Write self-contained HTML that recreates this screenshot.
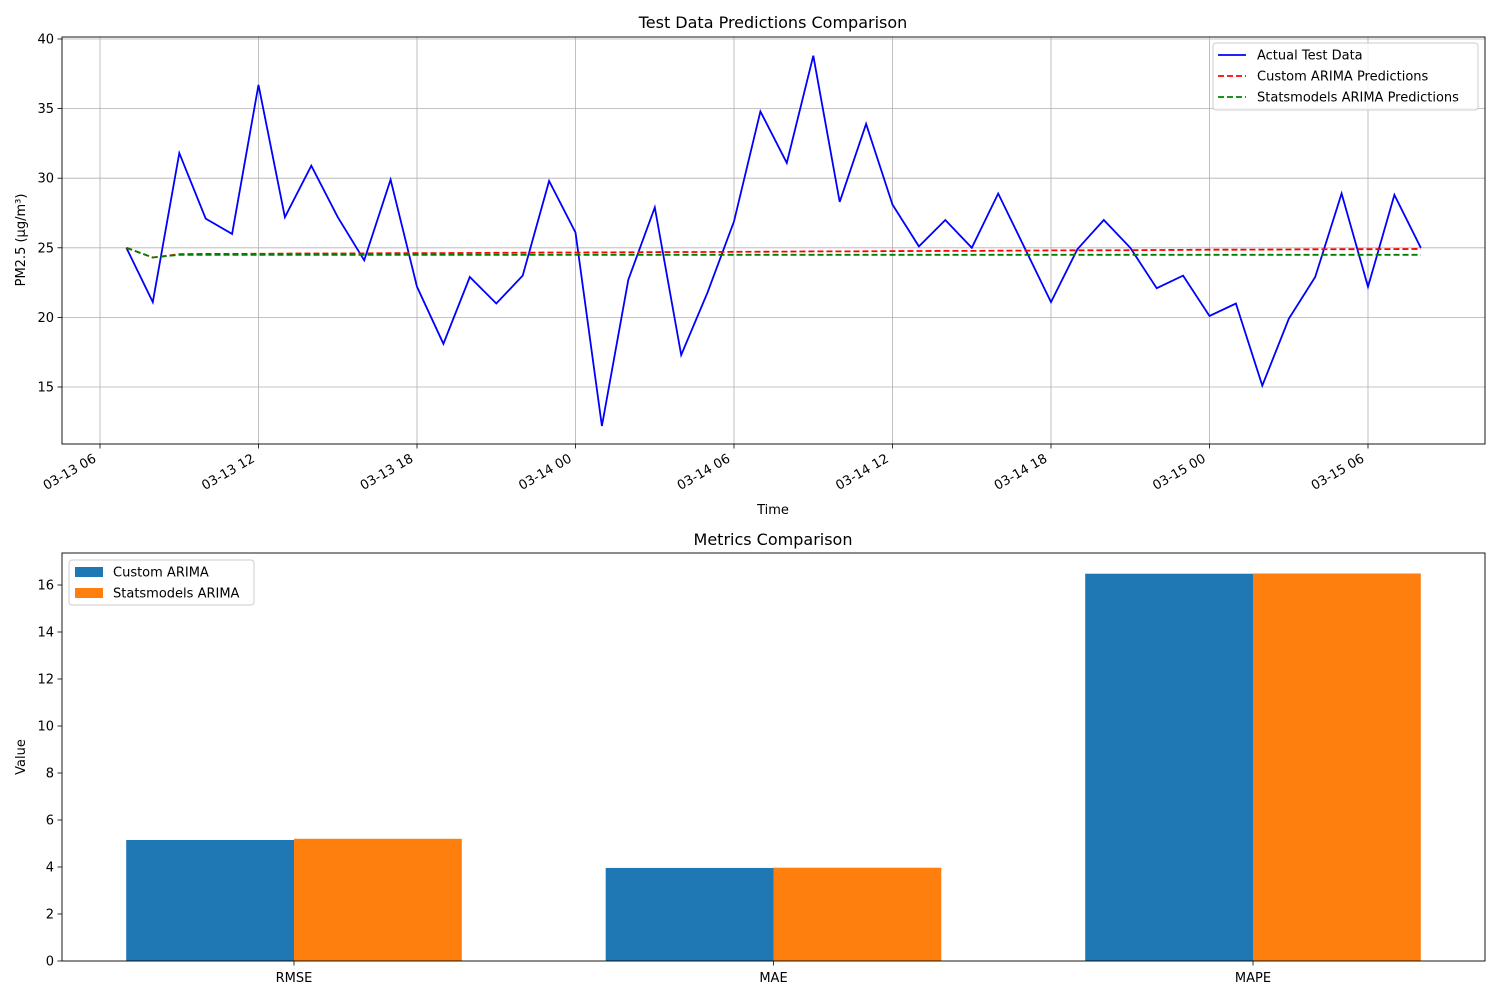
<!DOCTYPE html>
<html><head><meta charset="utf-8"><style>
body{margin:0;background:#fff;}
svg text{font-family:"DejaVu Sans","Liberation Sans",sans-serif;fill:#000;}
</style></head><body>
<svg id="fig" width="1500" height="1000" xmlns="http://www.w3.org/2000/svg">
<rect width="1500" height="1000" fill="#fff"/>
<g id="top"></g>
<g id="bot"></g>
</svg>
<script>
const actual=[25.0,21.1,31.8,27.1,26.0,36.7,27.2,30.9,27.2,24.1,29.9,22.2,18.1,22.9,21.0,23.0,29.8,26.1,12.2,22.7,27.9,17.3,21.8,26.9,34.8,31.1,38.8,28.3,33.9,28.1,25.1,27.0,25.0,28.9,25.0,21.1,24.9,27.0,25.0,22.1,23.0,20.1,21.0,15.1,19.9,22.9,28.9,22.2,28.8,25.0];
const customPred=[25.0,24.3,24.55,24.56,24.56,24.57,24.58,24.59,24.59,24.6,24.61,24.62,24.62,24.63,24.64,24.65,24.66,24.66,24.67,24.68,24.69,24.7,24.7,24.71,24.72,24.73,24.74,24.74,24.75,24.76,24.77,24.78,24.78,24.79,24.8,24.81,24.82,24.82,24.83,24.84,24.85,24.86,24.86,24.87,24.88,24.89,24.9,24.9,24.91,24.92];
const statsPred=[25.0,24.3,24.5,24.5,24.5,24.5,24.5,24.5,24.5,24.5,24.5,24.5,24.5,24.5,24.5,24.5,24.5,24.5,24.5,24.5,24.5,24.5,24.5,24.5,24.5,24.5,24.5,24.5,24.5,24.5,24.5,24.5,24.5,24.5,24.5,24.5,24.5,24.5,24.5,24.5,24.5,24.5,24.5,24.5,24.5,24.5,24.5,24.5,24.5,24.5];
const startHour=7;
const xTickLabels=["03-13 06","03-13 12","03-13 18","03-14 00","03-14 06","03-14 12","03-14 18","03-15 00","03-15 06"];
const xTickHours=[6,12,18,24,30,36,42,48,54];
const yTicksTop=[15,20,25,30,35,40];
const metricCats=["RMSE","MAE","MAPE"];
const customMetrics=[5.15,3.96,16.48];
const statsMetrics=[5.2,3.97,16.49];
const yTicksBot=[0,2,4,6,8,10,12,14,16];

const NS="http://www.w3.org/2000/svg";
function mk(p,tag,attrs,text){const e=document.createElementNS(NS,tag);for(const k in attrs)e.setAttribute(k,attrs[k]);if(text!==undefined)e.textContent=text;p.appendChild(e);return e;}

const T=document.getElementById('top');
const L=62,R=1485,TT=37,TB=444;
const xh=h=>100+(h-6)*158.5/6;
const yt=v=>387-(v-15)*13.92;
xTickHours.forEach((h,i)=>{
  const x=xh(h);
  const g=mk(T,'line',{x1:x,x2:x,y1:TT,y2:TB,stroke:'#b0b0b0','stroke-width':0.8});
  
  
  mk(T,'line',{x1:x,x2:x,y1:TB,y2:TB+4.5,stroke:'#000','stroke-width':0.8});
  const tx0=x-3,ty0=TB+17;
  const t=mk(T,'text',{x:tx0,y:ty0,'font-size':13,'text-anchor':'end',transform:`rotate(-30 ${tx0} ${ty0})`},xTickLabels[i]);
  
  
});
yTicksTop.forEach(v=>{
  const y=yt(v);
  const g=mk(T,'line',{x1:L,x2:R,y1:y,y2:y,stroke:'#b0b0b0','stroke-width':0.8});
  
  
  mk(T,'line',{x1:L-4.5,x2:L,y1:y,y2:y,stroke:'#000','stroke-width':0.8});
  const t=mk(T,'text',{x:L-8,y:y+4.5,'font-size':13,'text-anchor':'end'},String(v));
  
  
});
function series(arr,color,dash,name){
  const pts=arr.map((v,i)=>xh(startHour+i).toFixed(1)+','+yt(v).toFixed(1)).join(' ');
  const a={points:pts,fill:'none',stroke:color,'stroke-width':1.8};
  if(dash)a['stroke-dasharray']=dash;
  const p=mk(T,'polyline',a);
  
  
}
series(actual,'#0000ff',null,'actual-line');
series(customPred,'#ff0000','6,3','custom-arima-line');
series(statsPred,'#008000','6,3','statsmodels-arima-line');
mk(T,'rect',{x:L,y:TT,width:R-L,height:TB-TT,fill:'none',stroke:'#000','stroke-width':0.9});
let t=mk(T,'text',{x:773,y:28,'font-size':16,'text-anchor':'middle'},'Test Data Predictions Comparison');

t=mk(T,'text',{x:773,y:514,'font-size':13,'text-anchor':'middle'},'Time');

t=mk(T,'text',{x:25,y:240,'font-size':13,'text-anchor':'middle',transform:'rotate(-90 25 240)'},'PM2.5 (µg/m³)');

const lg=mk(T,'g',{});

mk(lg,'rect',{x:1213,y:43,width:265,height:67,rx:3,fill:'#fff','fill-opacity':0.8,stroke:'#ccc'});
[['Actual Test Data','#0000ff',null],['Custom ARIMA Predictions','#ff0000','6,3'],['Statsmodels ARIMA Predictions','#008000','6,3']].forEach((e,i)=>{
  const y=55+i*21;
  const a={x1:1218,x2:1246,y1:y,y2:y,stroke:e[1],'stroke-width':1.8};if(e[2])a['stroke-dasharray']=e[2];
  mk(lg,'line',a);
  const tx=mk(lg,'text',{x:1257,y:y+4.5,'font-size':13},e[0]);
  
});

const B=document.getElementById('bot');
const BT=553,BB=961;
const yb=v=>961-v*23.5;
const xc=i=>294+i*479.5;
const bw=167.8;
yTicksBot.forEach(v=>{
  const y=yb(v);
  mk(B,'line',{x1:L-4.5,x2:L,y1:y,y2:y,stroke:'#000','stroke-width':0.8});
  const tx=mk(B,'text',{x:L-8,y:y+4.5,'font-size':13,'text-anchor':'end'},String(v));
  
});
metricCats.forEach((c,i)=>{
  const r1=mk(B,'rect',{x:xc(i)-bw,y:yb(customMetrics[i]),width:bw,height:BB-yb(customMetrics[i]),fill:'#1f77b4'});
  
  const r2=mk(B,'rect',{x:xc(i),y:yb(statsMetrics[i]),width:bw,height:BB-yb(statsMetrics[i]),fill:'#ff7f0e'});
  
  mk(B,'line',{x1:xc(i),x2:xc(i),y1:BB,y2:BB+4.5,stroke:'#000','stroke-width':0.8});
  const tx=mk(B,'text',{x:xc(i),y:BB+21,'font-size':13,'text-anchor':'middle'},c);
  
});
mk(B,'rect',{x:L,y:BT,width:R-L,height:BB-BT,fill:'none',stroke:'#000','stroke-width':0.9});
t=mk(B,'text',{x:773,y:545,'font-size':16,'text-anchor':'middle'},'Metrics Comparison');

t=mk(B,'text',{x:25,y:757,'font-size':13,'text-anchor':'middle',transform:'rotate(-90 25 757)'},'Value');

const lb=mk(B,'g',{});

mk(lb,'rect',{x:69,y:560,width:185,height:45,rx:3,fill:'#fff','fill-opacity':0.8,stroke:'#ccc'});
[['Custom ARIMA','#1f77b4'],['Statsmodels ARIMA','#ff7f0e']].forEach((e,i)=>{
  const y=572+i*21;
  mk(lb,'rect',{x:75,y:y-5,width:28,height:10,fill:e[1]});
  const tx=mk(lb,'text',{x:113,y:y+4.5,'font-size':13},e[0]);
  
});
</script>
</body></html>
